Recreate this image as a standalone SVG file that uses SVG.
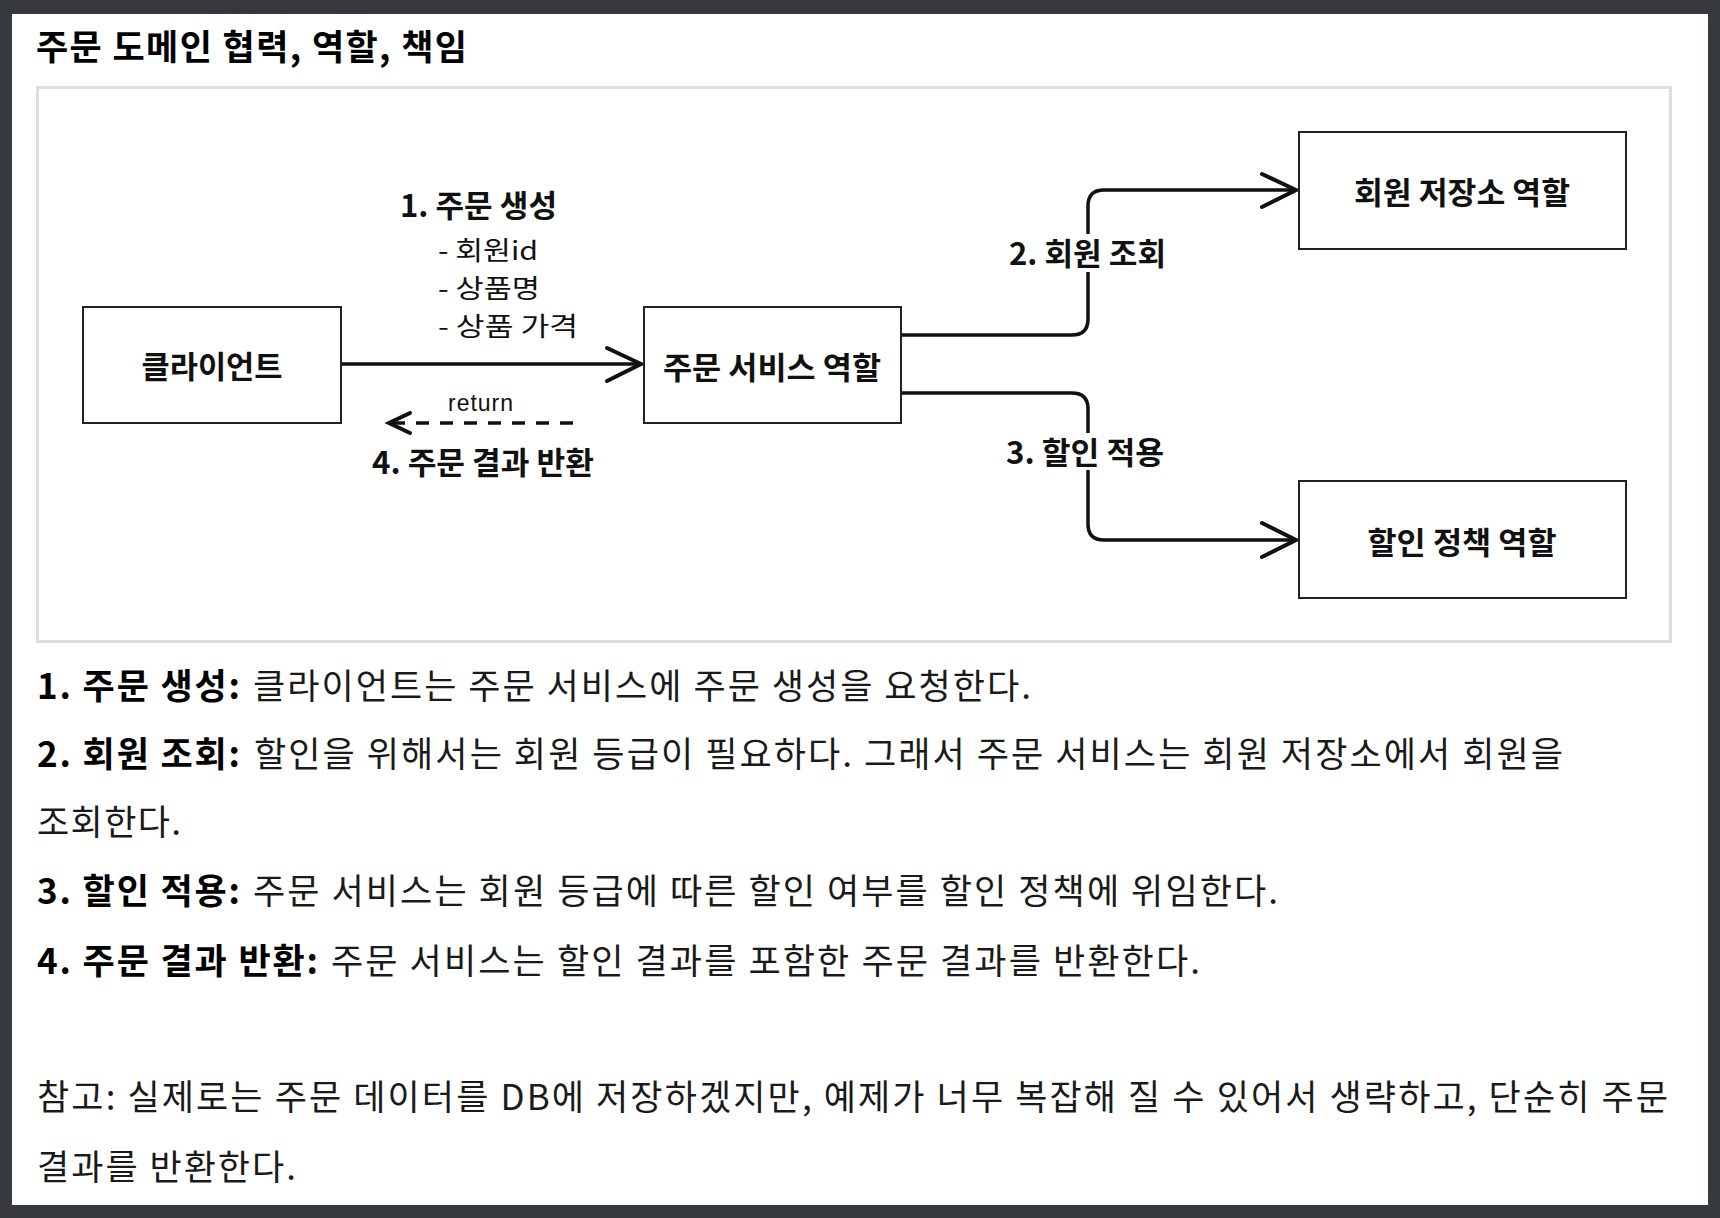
<svg xmlns="http://www.w3.org/2000/svg" width="1720" height="1218" viewBox="0 0 1720 1218">
<style>
  text { font-family: "Noto Sans CJK KR", "Noto Sans", sans-serif; fill: #111; }
  .title { font-size: 35px; font-weight: 700; fill: #000; }
  .body { font-size: 35px; font-weight: 400; fill: #1a1a1a; }
  .bodyb { font-size: 35px; font-weight: 700; fill: #000; }
  .node rect { fill: #fff; stroke: #222; stroke-width: 2; }
  .nlabel { font-size: 31px; font-weight: 700; text-anchor: middle; }
  .elabel { font-size: 31px; font-weight: 700; }
  .elabelr { font-size: 26px; font-weight: 400; }
  .ret { font-family: "Liberation Sans", Arial, sans-serif; font-size: 23px; font-weight: 400; }
  .edge { fill: none; stroke: #111; stroke-width: 3.5; stroke-linejoin: round; }
  .head { fill: none; stroke: #111; stroke-width: 4; stroke-linecap: round; stroke-linejoin: miter; }
  .dash { stroke-dasharray: 13 11; }
</style>
<rect x="0" y="0" width="1720" height="1218" fill="#35383d"/>
<rect x="12" y="14" width="1696" height="1191" fill="#fff"/>
<text class="title" x="36" y="60" textLength="431">주문 도메인 협력, 역할, 책임</text>
<rect x="37.5" y="87.5" width="1633" height="554" fill="#fff" stroke="#dedede" stroke-width="3"/>

<g id="connectors">
  <line class="edge" x1="341" y1="364" x2="640" y2="364"/>
  <polyline class="head" points="607,348 641,364 607,381"/>
  <line class="edge dash" x1="573" y1="423" x2="393" y2="423" stroke-width="4"/>
  <polyline class="head" points="410,413 389,423 410,433"/>
  <path class="edge" d="M901,335 H1072 Q1088,335 1088,319 V206 Q1088,190 1104,190 H1294"/>
  <polyline class="head" points="1262,174 1296,190 1262,207"/>
  <path class="edge" d="M901,393 H1072 Q1088,393 1088,409 V524 Q1088,540 1104,540 H1294"/>
  <polyline class="head" points="1262,523 1296,540 1262,557"/>
  <rect x="1004" y="234" width="168" height="38" fill="#fff"/>
  <rect x="1001" y="433" width="168" height="37" fill="#fff"/>
  <text class="elabel" x="400" y="217" textLength="157" lengthAdjust="spacingAndGlyphs">1. 주문 생성</text>
  <text class="elabelr" x="438" y="260" textLength="100" lengthAdjust="spacingAndGlyphs">- 회원id</text>
  <text class="elabelr" x="438" y="298" textLength="102" lengthAdjust="spacingAndGlyphs">- 상품명</text>
  <text class="elabelr" x="438" y="336" textLength="140" lengthAdjust="spacingAndGlyphs">- 상품 가격</text>
  <text class="ret" x="448" y="411" textLength="65">return</text>
  <text class="elabel" x="372" y="474" textLength="222" lengthAdjust="spacingAndGlyphs">4. 주문 결과 반환</text>
  <text class="elabel" x="1009" y="265" textLength="157" lengthAdjust="spacingAndGlyphs">2. 회원 조회</text>
  <text class="elabel" x="1006" y="464" textLength="158" lengthAdjust="spacingAndGlyphs">3. 할인 적용</text>
</g>

<g id="client" class="node">
  <rect x="83" y="307" width="258" height="116"/>
  <text class="nlabel" x="212" y="378" textLength="141" lengthAdjust="spacingAndGlyphs">클라이언트</text>
</g>
<g id="order-service" class="node">
  <rect x="644" y="307" width="257" height="116"/>
  <text class="nlabel" x="772" y="379" textLength="218" lengthAdjust="spacingAndGlyphs">주문 서비스 역할</text>
</g>
<g id="member-repo" class="node">
  <rect x="1299" y="132" width="327" height="117"/>
  <text class="nlabel" x="1462" y="204" textLength="216" lengthAdjust="spacingAndGlyphs">회원 저장소 역할</text>
</g>
<g id="discount-policy" class="node">
  <rect x="1299" y="481" width="327" height="117"/>
  <text class="nlabel" x="1462" y="554" textLength="189" lengthAdjust="spacingAndGlyphs">할인 정책 역할</text>
</g>

<g id="description">
  <text class="bodyb" x="37" y="699" textLength="203">1. 주문 생성:</text>
  <text class="body" x="253" y="699" textLength="778">클라이언트는 주문 서비스에 주문 생성을 요청한다.</text>
  <text class="bodyb" x="37" y="767" textLength="203">2. 회원 조회:</text>
  <text class="body" x="254" y="767" textLength="1309">할인을 위해서는 회원 등급이 필요하다. 그래서 주문 서비스는 회원 저장소에서 회원을</text>
  <text class="body" x="37" y="835" textLength="144">조회한다.</text>
  <text class="bodyb" x="37" y="904" textLength="203">3. 할인 적용:</text>
  <text class="body" x="253" y="904" textLength="1025">주문 서비스는 회원 등급에 따른 할인 여부를 할인 정책에 위임한다.</text>
  <text class="bodyb" x="37" y="974" textLength="281">4. 주문 결과 반환:</text>
  <text class="body" x="331" y="974" textLength="869">주문 서비스는 할인 결과를 포함한 주문 결과를 반환한다.</text>
  <text class="body" x="37" y="1110" textLength="1631">참고: 실제로는 주문 데이터를 DB에 저장하겠지만, 예제가 너무 복잡해 질 수 있어서 생략하고, 단순히 주문</text>
  <text class="body" x="37" y="1180" textLength="259">결과를 반환한다.</text>
</g>
</svg>
